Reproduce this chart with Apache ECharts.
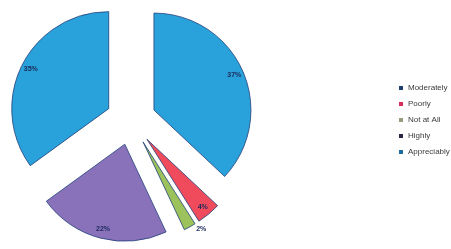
<!DOCTYPE html>
<html>
<head>
<meta charset="utf-8">
<script src="https://cdn.jsdelivr.net/npm/echarts@6/dist/echarts.min.js"></script>
<style>
  html, body { margin: 0; padding: 0; background: #fff; }
  #chart { width: 451px; height: 249px; }
</style>
</head>
<body>
<div id="chart"></div>
<script>
// data
const categories = ['Moderately', 'Poorly', 'Not at All', 'Highly', 'Appreciably'];
const values = [37, 4, 2, 22, 35];
const sliceColors = ['#29a1da', '#ef4b5d', '#9cc25c', '#8a72bb', '#29a1da'];
const legendColors = ['#1f3f72', '#d8305e', '#9a9a80', '#2a2540', '#1e6b9c'];

const chart = echarts.init(document.getElementById('chart'), null, { renderer: 'canvas' });

const center = [131, 120];
const offset = 25;

// slices
const pieData = categories.map((name, i) => ({
  name,
  value: values[i],
  selected: true,
  itemStyle: { color: sliceColors[i] }
}));

// transparent ring only used to place the percentage labels near the rim
const labelData = categories.map((name, i) => ({
  name,
  value: values[i],
  selected: true,
  label: values[i] < 3 ? { position: 'outside' } : { position: 'inside' }
}));

chart.setOption({
  animation: false,
  legend: {
    orient: 'vertical',
    left: 394,
    top: 79,
    itemWidth: 4,
    itemHeight: 4,
    itemGap: 8,
    icon: 'rect',
    itemStyle: { borderWidth: 0 },
    textStyle: { fontSize: 8, color: '#3a3a3a', lineHeight: 8, fontFamily: 'Liberation Sans' },
    data: categories.map((name, i) => ({ name, itemStyle: { color: legendColors[i], borderWidth: 0 } }))
  },
  series: [
    {
      type: 'pie',
      center,
      radius: 97,
      startAngle: 90,
      clockwise: true,
      selectedMode: 'multiple',
      selectedOffset: offset,
      silent: true,
      label: { show: false },
      labelLine: { show: false },
      itemStyle: { borderColor: '#22407a', borderWidth: 0.8 },
      emphasis: { disabled: true },
      data: pieData
    },
    {
      type: 'pie',
      center,
      radius: [72, 97],
      startAngle: 90,
      clockwise: true,
      selectedMode: 'multiple',
      selectedOffset: offset,
      silent: true,
      legendHoverLink: false,
      itemStyle: { color: 'rgba(0,0,0,0)' },
      label: {
        show: true,
        formatter: '{c}%',
        fontSize: 7,
        fontWeight: 'bold',
        color: '#1c2a5a',
        fontFamily: 'Liberation Sans'
      },
      labelLine: { show: false, length: 3, length2: 0 },
      emphasis: { disabled: true },
      data: labelData
    }
  ]
});
</script>
</body>
</html>
